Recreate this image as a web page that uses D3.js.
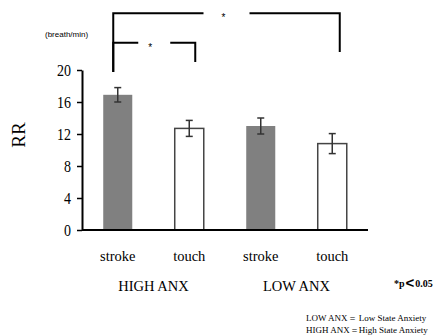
<!DOCTYPE html>
<html>
<head>
<meta charset="utf-8">
<script src="https://cdn.jsdelivr.net/npm/d3@7"></script>
<style>
  body { margin: 0; background: #fff; }
  text { font-family: "Liberation Serif", "Times New Roman", serif; fill: #000; }
</style>
</head>
<body>
<div id="chart"></div>
<script>
// data
const bars = ["hs", "ht", "ls", "lt"];
const barLabels = ["stroke", "touch", "stroke", "touch"];
const barValues = [16.9, 12.7, 13.0, 10.8];
const barErrors = [0.9, 1.0, 1.0, 1.25];
const barKinds = ["stroke", "touch", "stroke", "touch"];
const groups = ["HIGH ANX", "LOW ANX"];
const yTicks = [0, 4, 8, 12, 16, 20];

// significance brackets: from bar, to bar, top level, left foot, right foot (in RR units)
const brackets = [
  { from: "hs", to: "lt", top: 27.1, leftFoot: 19.75, rightFoot: 22.25 },
  { from: "hs", to: "ht", top: 23.4, leftFoot: 19.75, rightFoot: 21.0 }
];

const width = 436, height = 336;
const margin = { top: 70, bottom: 106, left: 82, right: 68 };

const svg = d3.select("#chart")
  .append("svg")
  .attr("width", width)
  .attr("height", height);

const x = d3.scaleBand()
  .domain(bars)
  .range([margin.left, width - margin.right])
  .paddingInner(0.594)
  .paddingOuter(0.297);

const y = d3.scaleLinear()
  .domain([0, 20])
  .range([height - margin.bottom, margin.top]);

const color = d3.scaleOrdinal()
  .domain(["stroke", "touch"])
  .range(["#808080", "#ffffff"]);

const cx = id => x(id) + x.bandwidth() / 2;

// bars
svg.selectAll(".bar")
  .data(bars)
  .enter()
  .append("rect")
  .attr("x", d => x(d))
  .attr("width", x.bandwidth())
  .attr("y", (d, i) => y(barValues[i]))
  .attr("height", (d, i) => y(0) - y(barValues[i]))
  .attr("fill", (d, i) => color(barKinds[i]))
  .attr("stroke", (d, i) => barKinds[i] == "touch" ? "#444" : "none")
  .attr("stroke-width", 1.5);

// error bars
bars.forEach((id, i) => {
  const g = svg.append("g").attr("stroke", "#333").attr("stroke-width", 1.5);
  const hi = y(barValues[i] + barErrors[i]), lo = y(barValues[i] - barErrors[i]);
  g.append("line").attr("x1", cx(id)).attr("x2", cx(id)).attr("y1", hi).attr("y2", lo);
  g.append("line").attr("x1", cx(id) - 3.5).attr("x2", cx(id) + 3.5).attr("y1", hi).attr("y2", hi);
  g.append("line").attr("x1", cx(id) - 3.5).attr("x2", cx(id) + 3.5).attr("y1", lo).attr("y2", lo);
});

// y axis
const yAxis = svg.append("g")
  .attr("transform", `translate(${margin.left},0)`)
  .call(d3.axisLeft(y).tickValues(yTicks).tickSize(5).tickSizeOuter(0).tickPadding(6));
yAxis.select(".domain").attr("stroke", "#000").attr("stroke-width", 2);
yAxis.selectAll(".tick line").attr("stroke", "#000").attr("stroke-width", 1.5);
// narrow, tall digits as in the original
yAxis.selectAll(".tick text")
  .style("font-family", "Liberation Serif, serif")
  .style("font-size", "17.5px")
  .attr("fill", "#000")
  .attr("x", -11 / 0.8)
  .attr("transform", "scale(0.8,1)");

// x axis baseline
svg.append("line")
  .attr("x1", margin.left).attr("x2", width - margin.right)
  .attr("y1", y(0)).attr("y2", y(0))
  .attr("stroke", "#000").attr("stroke-width", 2);

// bar labels
svg.selectAll(".blabel")
  .data(bars)
  .enter()
  .append("text")
  .attr("x", d => cx(d))
  .attr("y", 261)
  .attr("text-anchor", "middle")
  .style("font-size", "14.5px")
  .text((d, i) => barLabels[i]);

// group labels
groups.forEach((gname, i) => {
  const a = bars[i * 2], b = bars[i * 2 + 1];
  svg.append("text")
    .attr("x", (cx(a) + cx(b)) / 2)
    .attr("y", 291)
    .attr("text-anchor", "middle")
    .style("font-size", "14.5px")
    .text(gname);
});

// y label
svg.append("text")
  .attr("transform", "translate(25,135) rotate(-90)")
  .attr("text-anchor", "middle")
  .style("font-size", "19px")
  .text("RR");

svg.append("text")
  .attr("x", 45)
  .attr("y", 37)
  .style("font-family", "Liberation Sans, Arial, sans-serif")
  .style("font-size", "8px")
  .attr("fill", "#333")
  .text("(breath/min)");

// significance brackets
brackets.forEach(b => {
  const x1 = cx(b.from) - 4.5;
  const x2 = cx(b.to) + (b.to == "lt" ? 7.5 : 6);
  const yt = y(b.top);
  const mid = (x1 + x2) / 2;
  const gap = b.to == "lt" ? 23 : 16;
  const starX = b.to == "lt" ? mid - 3 : mid - 4;
  const path = d3.path();
  path.moveTo(x1, y(b.leftFoot));
  path.lineTo(x1, yt);
  path.lineTo(mid - gap, yt);
  path.moveTo(mid + gap, yt);
  path.lineTo(x2, yt);
  path.lineTo(x2, y(b.rightFoot));
  svg.append("path")
    .attr("d", path.toString())
    .attr("fill", "none")
    .attr("stroke", "#000")
    .attr("stroke-width", 2);
  svg.append("text")
    .attr("x", starX)
    .attr("y", yt + 8)
    .attr("text-anchor", "middle")
    .style("font-family", "Liberation Sans, Arial, sans-serif")
    .style("font-size", "10px")
    .text("*");
});

// p-value note
const pNote = svg.append("text")
  .attr("x", 394)
  .attr("y", 287)
  .style("font-weight", "bold");
pNote.append("tspan").style("font-size", "10px").text("*p");
pNote.append("tspan").attr("dx", 1).attr("dy", 1)
  .style("font-family", "Liberation Sans, Arial, sans-serif")
  .style("font-size", "15px").text("<");
pNote.append("tspan").attr("dx", 1).attr("dy", -1).style("font-size", "10px").text("0.05");

// legend notes
svg.append("text")
  .attr("x", 306)
  .attr("y", 321)
  .style("font-size", "9px")
  .text("LOW ANX＝ Low State Anxiety");

svg.append("text")
  .attr("x", 306)
  .attr("y", 333)
  .style("font-size", "9px")
  .text("HIGH ANX＝High State Anxiety");
</script>
</body>
</html>
